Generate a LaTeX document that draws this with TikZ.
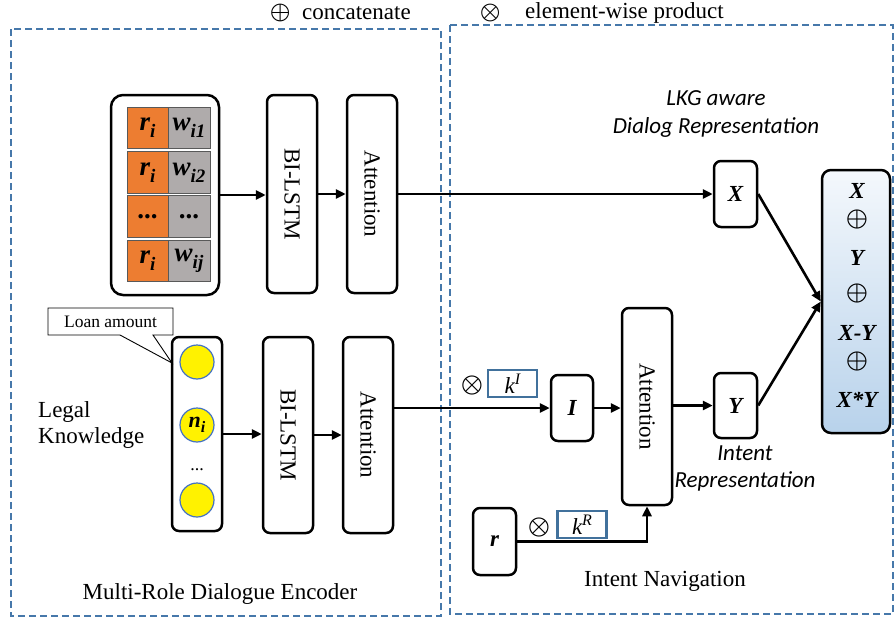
\documentclass[tikz,border=0pt]{standalone}
\usepackage{unicode-math}
\setmainfont{Liberation Serif}
\setmathfont{Latin Modern Math}
\newfontfamily\calfont{Carlito}
\usetikzlibrary{arrows.meta}
\definecolor{frameblue}{RGB}{70,120,170}
\definecolor{kblue}{RGB}{65,113,156}
\definecolor{cellorange}{RGB}{237,125,49}
\definecolor{cellgray}{RGB}{175,171,171}
\definecolor{circblue}{RGB}{68,114,196}
\definecolor{colTop}{RGB}{244,248,252}
\definecolor{colBot}{RGB}{184,210,235}
\newcommand\bi[1]{{\bfseries\itshape #1}}
\newcommand\bisub[2]{\bi{#1}\raisebox{-0.25em}{\fontsize{19}{19}\selectfont\bi{#2}}}
\newcommand\opl{{\fontsize{28}{28}\selectfont$\oplus$}}
\newcommand\otm{{\fontsize{28}{28}\selectfont$\otimes$}}
\newcommand\oplsm{{\fontsize{26}{26}\selectfont$\oplus$}}
\newcommand\otmsm{{\fontsize{26}{26}\selectfont$\otimes$}}
\begin{document}
\begin{tikzpicture}[x=1pt,y=-1pt,
  blk/.style={draw, line width=2.5pt, rounded corners=7pt, fill=white, inner sep=0pt},
  frame/.style={draw=frameblue, line width=1.1pt, dash pattern=on 7pt off 4pt},
  arr/.style={line width=2.6pt, -{Triangle[length=10pt,width=9pt]}},
  cellbox/.style={draw=black!65, line width=0.8pt, inner sep=0pt, minimum height=41.5pt, font=\fontsize{27}{28}\selectfont},
  kbox/.style={draw=kblue, line width=2.6pt, inner sep=0pt, minimum width=49pt, minimum height=27pt, font=\fontsize{23}{27}\selectfont},
  txt/.style={inner sep=0pt, font=\fontsize{23}{27}\selectfont},
  sym/.style={inner sep=0pt},
  circ/.style={circle, draw=circblue, line width=1.2pt, fill=yellow, minimum size=34pt, inner sep=0pt},
  vtxt/.style={rotate=-90, inner sep=0pt, font=\fontsize{23}{27}\selectfont}
]
\useasboundingbox (0,0) rectangle (895,621);
% frames
\draw[frame] (11,29) rectangle (441,616);
\draw[frame] (450,25) rectangle (893,614);
% legend
\node[sym] (lgp) at (281,13) {\oplsm};
\node[txt, anchor=west] (lgpt) at (302,13) {concatenate};
\node[sym] (lgt) at (491,13) {\otmsm};
\node[txt, anchor=west] (lgtt) at (525,13) {element-wise product};
% top stack
\node[blk, rounded corners=12pt, minimum width=108pt, minimum height=200pt] (stack) at (165,195) {};
\foreach \yy/\rr/\ww [count=\k] in {128/\bisub{r}{i}/\bisub{w}{i1}, 172.5/\bisub{r}{i}/\bisub{w}{i2}, 216.5/{\bfseries...}/{\bfseries...}, 261/\bisub{r}{i}/\bisub{w}{ij}} {
  \node[cellbox, fill=cellorange, minimum width=41pt] (or\k) at (147.5,\yy) {\rr};
  \node[cellbox, fill=cellgray, minimum width=42pt] (gr\k) at (189,\yy) {\ww};
}
\node[blk, minimum width=50pt, minimum height=198pt] (bl1) at (292,194) {};
\node[vtxt] (bl1t) at (bl1) {BI-LSTM};
\node[blk, minimum width=50pt, minimum height=198pt] (at1) at (372,194) {};
\node[vtxt] (at1t) at (at1) {Attention};
\draw[arr] (stack.east) -- (stack.east -| bl1.west);
\draw[arr] (bl1.east) -- (bl1.east -| at1.west);
% X
\node[blk, minimum width=43pt, minimum height=66pt, font=\fontsize{23}{27}\selectfont] (X) at (735.5,194) {\bi{X}};
\draw[arr] (at1.east) -- (at1.east -| X.west);
\node[inner sep=0pt, align=center, font=\calfont\itshape\fontsize{23}{28}\selectfont] (lkg) at (716,114) {LKG aware\\Dialog Representation};
% right column
\node[draw, line width=2.5pt, rounded corners=9pt, top color=colTop, bottom color=colBot, minimum width=68pt, minimum height=263pt, inner sep=0pt] (col) at (856,301.5) {};
\node[txt] (c1) at (857,191) {\bi{X}};
\node[sym] (c2) at (857,219) {\opl};
\node[txt] (c3) at (857,258) {\bi{Y}};
\node[sym] (c4) at (857,293) {\opl};
\node[txt] (c5) at (857,333) {\bi{X-Y}};
\node[sym] (c6) at (857,361) {\opl};
\node[txt] (c7) at (857,400) {\bi{X*Y}};
% bottom left
\node[blk, minimum width=50pt, minimum height=194pt] (nc) at (197,434) {};
\node[circ] (n1) at (197,362) {};
\node[circ, font=\fontsize{22}{24}\selectfont] (n2) at (197,425) {\bi{n}\raisebox{-0.25em}{\fontsize{16}{16}\selectfont\bi{i}}};
\node[inner sep=0pt, font=\fontsize{18}{18}\selectfont] (ndots) at (197,470) {...};
\node[circ] (n3) at (197,500) {};
\node[txt, align=left, anchor=west, font=\fontsize{23}{26}\selectfont] (lk) at (38,425) {Legal\\Knowledge};
\draw[line width=0.9pt, fill=white] (48,308) -- (173,308) -- (173,335) -- (153,335) -- (172,363) -- (120,335) -- (48,335) -- cycle;
\node[inner sep=0pt, font=\fontsize{17.5}{20}\selectfont] (loan) at (110.5,321.5) {Loan amount};
\node[blk, minimum width=50pt, minimum height=196pt] (bl2) at (288,435) {};
\node[vtxt] (bl2t) at (bl2) {BI-LSTM};
\node[blk, minimum width=50pt, minimum height=196pt] (at2) at (368,435) {};
\node[vtxt] (at2t) at (at2) {Attention};
\draw[arr] (nc.east) -- (nc.east -| bl2.west);
\draw[arr] (bl2.east) -- (bl2.east -| at2.west);
% intent navigation
\node[blk, minimum width=42pt, minimum height=66pt, font=\fontsize{23}{27}\selectfont] (I) at (572,408) {\bi{I}};
\node[blk, minimum width=50pt, minimum height=197pt] (at3) at (647,406.5) {};
\node[vtxt] (at3t) at (at3) {Attention};
\node[blk, minimum width=43pt, minimum height=65pt, font=\fontsize{23}{27}\selectfont] (Y) at (735.5,405.5) {\bi{Y}};
\node[blk, minimum width=43pt, minimum height=67pt, font=\fontsize{23}{27}\selectfont] (r) at (494.5,541.5) {\bi{r}};
\node[sym] (ot1) at (472,385) {\otm};
\node[kbox] (kI) at (512.5,383.5) {\itshape k\raisebox{0.4em}{\fontsize{16}{16}\selectfont\itshape I}};
\node[sym] (ot2) at (539,527) {\otm};
\node[kbox] (kR) at (582,524.5) {\itshape k\raisebox{0.4em}{\fontsize{16}{16}\selectfont\itshape R}};
\draw[arr] (at2.east |- I.west) -- (I.west);
\draw[arr] (I.east) -- (I.east -| at3.west);
\draw[arr] (at3.east |- Y.west) -- (Y.west);
\draw[arr] (r.east) -| (at3.south);
\draw[arr] (X.east) -- (col.west);
\draw[arr] (Y.east) -- (col.west);
\node[inner sep=0pt, align=center, font=\calfont\itshape\fontsize{23}{27}\selectfont] (irep) at (745,468.5) {Intent\\Representation};
% titles
\node[txt] (mrde) at (220,594) {Multi-Role Dialogue Encoder};
\node[txt] (inav) at (665,581) {Intent Navigation};
\end{tikzpicture}
\end{document}
